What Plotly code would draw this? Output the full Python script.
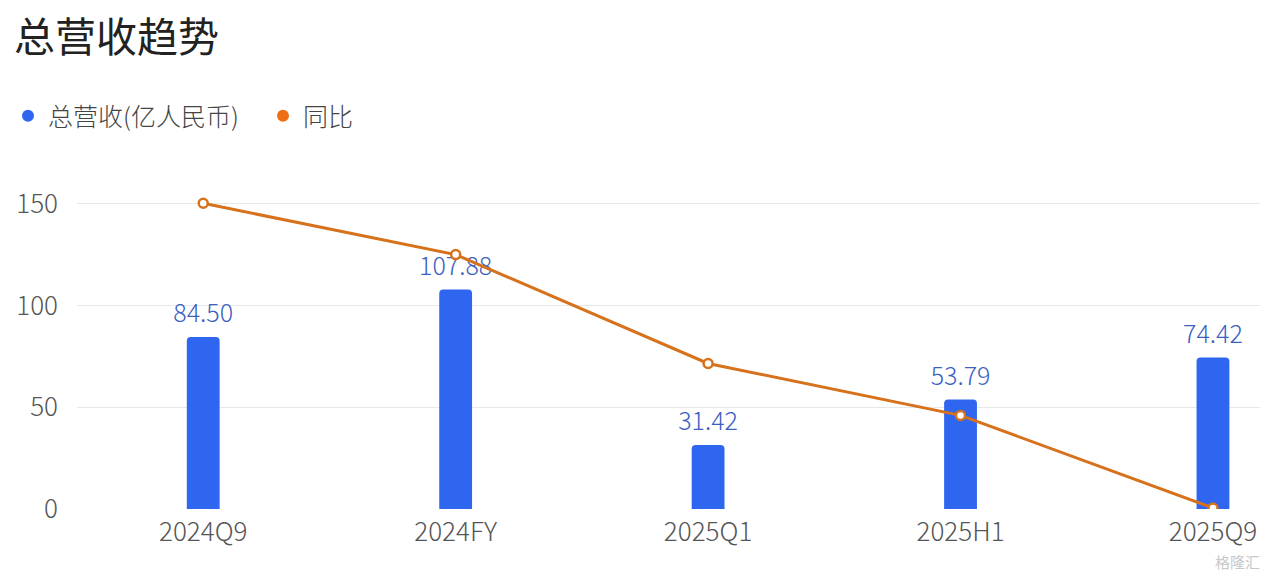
import plotly.graph_objects as go

categories = ["2024Q9", "2024FY", "2025Q1", "2025H1", "2025Q9"]
revenue = [84.50, 107.88, 31.42, 53.79, 74.42]
yoy = [150.2, 125.0, 71.5, 46.0, 0.5]
y_ticks = [0, 50, 100, 150]

FONT = "Noto Sans CJK SC, Noto Sans, sans-serif"
BAR_COLOR = "#2f66f0"
LINE_COLOR = "#d6711c"
LABEL_COLOR = "#3d5fc0"

W, H = 1260, 565

fig = go.Figure()

fig.add_trace(go.Bar(
    x=categories, y=revenue, width=0.13,
    marker=dict(color=BAR_COLOR, line=dict(width=0)),
    showlegend=False, hoverinfo="skip",
))

fig.add_trace(go.Scatter(
    x=categories, y=revenue, mode="markers+text",
    text=[f"{v:.2f}" for v in revenue], textposition="top center",
    textfont=dict(family=FONT, size=25, color=LABEL_COLOR, weight=300),
    marker=dict(size=12, opacity=0),
    showlegend=False, hoverinfo="skip",
))

fig.add_trace(go.Scatter(
    x=categories, y=yoy, mode="lines+markers",
    line=dict(color=LINE_COLOR, width=3),
    marker=dict(size=9, color="white", line=dict(color=LINE_COLOR, width=2.5)),
    showlegend=False, hoverinfo="skip",
))

# legend entries (circle symbols)
fig.add_trace(go.Scatter(x=[None], y=[None], mode="markers", name="总营收(亿人民币)",
                         marker=dict(size=15, color=BAR_COLOR)))
fig.add_trace(go.Scatter(x=[None], y=[None], mode="markers", name="同比",
                         marker=dict(size=15, color="#ee6f12")))

fig.add_annotation(
    text="格隆汇", xref="paper", yref="paper", x=0.995, y=-0.153,
    xanchor="right", yanchor="middle", showarrow=False,
    font=dict(family=FONT, size=15, color="#c8c8c8"),
)

fig.update_layout(
    width=W, height=H,
    margin=dict(l=69, r=0, t=155, b=64),
    paper_bgcolor="white", plot_bgcolor="white",
    barcornerradius=4,
    title=dict(text="总营收趋势", x=6 / W, xanchor="left", xref="container",
               y=1 - 30 / H, yanchor="middle", yref="container",
               font=dict(family=FONT, size=41, color="#222222", weight=400)),
    legend=dict(orientation="h", x=0, xref="container", xanchor="left",
                y=1 - 108 / H, yref="container", yanchor="middle",
                font=dict(family=FONT, size=25, color="#444444", weight=300),
                itemsizing="constant", itemwidth=30, traceorder="normal",
                entrywidth=210, entrywidthmode="pixels"),
    xaxis=dict(range=[-0.5, 4.218], showgrid=False, showline=False, zeroline=False,
               ticklabelstandoff=5,
               tickfont=dict(family=FONT, size=26, color="#555555", weight=300), ticks=""),
    yaxis=dict(range=[0, 170], tickvals=y_ticks, showgrid=True, gridcolor="#e8e8e8",
               gridwidth=1, zeroline=False, showline=False, ticks="",
               ticklabelstandoff=18,
               tickfont=dict(family=FONT, size=26, color="#555555", weight=300)),
)

fig.write_html("out.html")
